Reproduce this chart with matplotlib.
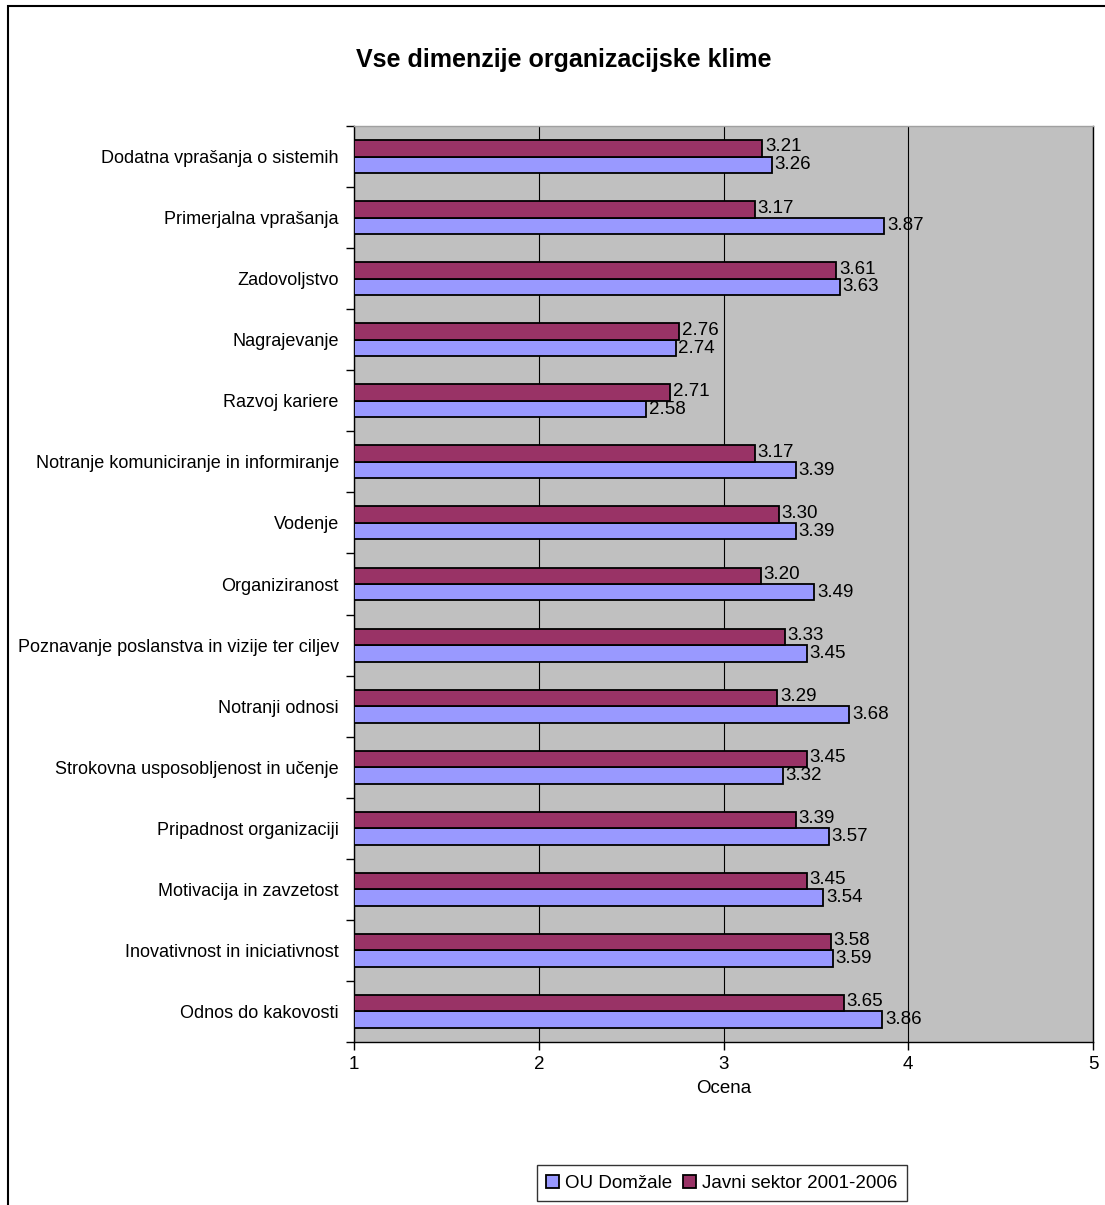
import numpy as np
import matplotlib.pyplot as plt
from matplotlib.patches import Rectangle
from matplotlib import font_manager

names = [f.name for f in font_manager.fontManager.ttflist]
if 'Liberation Sans Narrow' in names:
    plt.rcParams['font.family'] = ['Liberation Sans Narrow', 'Liberation Sans', 'DejaVu Sans']
else:
    plt.rcParams['font.family'] = ['Liberation Sans', 'DejaVu Sans']

# categories listed bottom to top
categories = ['Odnos do kakovosti', 'Inovativnost in iniciativnost', 'Motivacija in zavzetost',
              'Pripadnost organizaciji', 'Strokovna usposobljenost in učenje', 'Notranji odnosi',
              'Poznavanje poslanstva in vizije ter ciljev', 'Organiziranost', 'Vodenje',
              'Notranje komuniciranje in informiranje', 'Razvoj kariere', 'Nagrajevanje',
              'Zadovoljstvo', 'Primerjalna vprašanja', 'Dodatna vprašanja o sistemih']
ou_domzale = [3.86, 3.59, 3.54, 3.57, 3.32, 3.68, 3.45, 3.49, 3.39, 3.39, 2.58, 2.74, 3.63, 3.87, 3.26]
javni_sektor = [3.65, 3.58, 3.45, 3.39, 3.45, 3.29, 3.33, 3.20, 3.30, 3.17, 2.71, 2.76, 3.61, 3.17, 3.21]
xticks = [1, 2, 3, 4, 5]

base = 1
fig = plt.figure(figsize=(11.05, 12.05), dpi=100)
ax = fig.add_axes([0.3204, 0.1353, 0.6688, 0.7601])
ax.set_facecolor('#C0C0C0')

y = np.arange(len(categories))
h = 0.27
ou = np.array(ou_domzale)
js = np.array(javni_sektor)
b1 = ax.barh(y - h / 2, ou - base, left=base, height=h, color='#9999FF',
             edgecolor='black', linewidth=1.3, label='OU Domžale', zorder=3)
b2 = ax.barh(y + h / 2, js - base, left=base, height=h, color='#993366',
             edgecolor='black', linewidth=1.3, label='Javni sektor 2001-2006', zorder=3)

for yi, v in zip(y, ou):
    ax.annotate('%.2f' % v, (v, yi - h / 2), xytext=(2, 0), textcoords='offset points',
                va='center', ha='left', fontsize=13.5, zorder=4)
for yi, v in zip(y, js):
    ax.annotate('%.2f' % v, (v, yi + h / 2), xytext=(2, 1), textcoords='offset points',
                va='center', ha='left', fontsize=13.5, zorder=4)

ax.set_xlim(1, 5)
ax.set_ylim(-0.5, len(categories) - 0.5)
ax.set_xticks(xticks)
ax.set_xticklabels([str(t) for t in xticks], fontsize=13.5)
ax.xaxis.grid(True, color='black', linewidth=0.8, zorder=0)
ax.set_axisbelow(True)
ax.tick_params(axis='x', length=6, width=1, pad=4)

ax.set_yticks(y)
ax.set_yticklabels(categories, fontsize=13)
ax.set_yticks(np.arange(-0.5, len(categories)), minor=True)
ax.tick_params(axis='y', which='major', length=0, pad=11)
ax.tick_params(axis='y', which='minor', length=6, width=1)

ax.spines['left'].set_color('black')
ax.spines['bottom'].set_color('black')
ax.spines['right'].set_color('black')
ax.spines['top'].set_color('#A0A0A0')
for s in ax.spines.values():
    s.set_linewidth(1)

ax.set_xlabel('Ocena', fontsize=13.5, labelpad=5)

fig.text(0.51, 0.950, 'Vse dimenzije organizacijske klime', ha='center', va='center',
         fontsize=18, fontweight='bold')

leg = fig.legend(handles=[b1, b2], loc='center', bbox_to_anchor=(0.653, 0.018), ncol=2,
                 fontsize=13.5, frameon=True, fancybox=False, edgecolor='black',
                 handlelength=0.7, handleheight=0.7, handletextpad=0.3, columnspacing=0.6,
                 borderpad=0.5)
leg.get_frame().set_linewidth(1)

fig.patches.append(Rectangle((8 / 1105, -0.1), 1.2, 1.1 - 6 / 1205,
                             transform=fig.transFigure, fill=False,
                             edgecolor='black', linewidth=1.5))

fig.savefig('out.png', dpi=100)
